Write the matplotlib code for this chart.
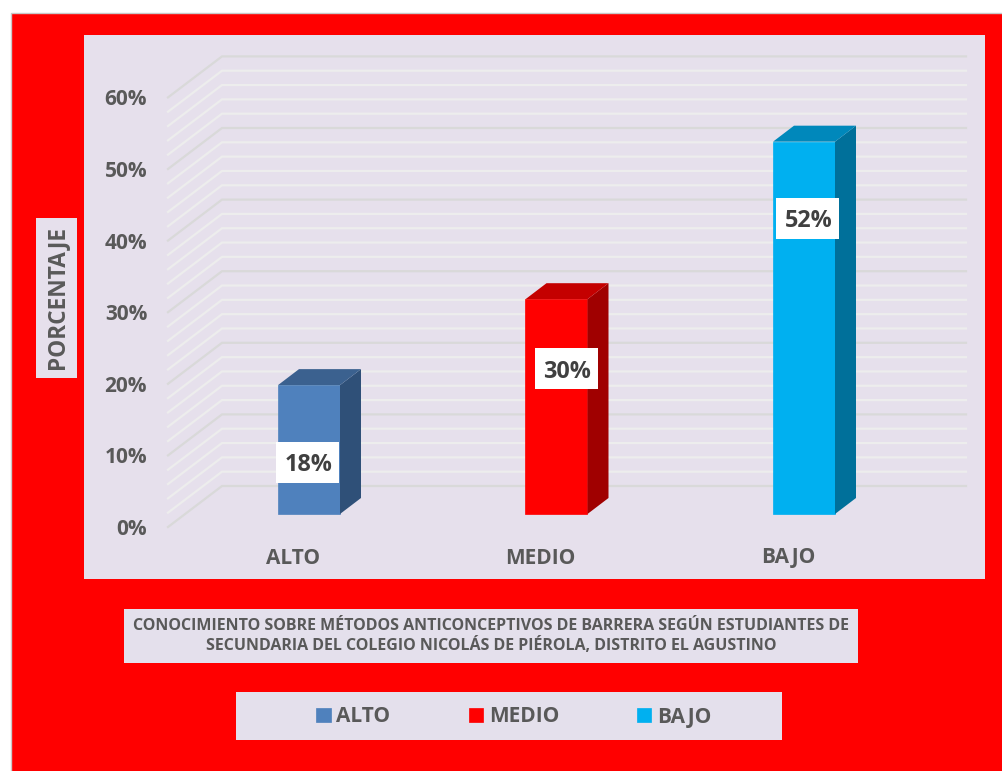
"""Barras 3D simuladas: conocimiento sobre metodos anticonceptivos de barrera."""
import matplotlib
matplotlib.use("Agg")
import matplotlib.pyplot as plt
import numpy as np
from matplotlib.patches import Rectangle

plt.rcParams["font.family"] = ["Open Sans", "DejaVu Sans"]
plt.rcParams["font.weight"] = "bold"

W, H = 1003, 771
TXT = "#595959"
PANEL = "#e6e0ec"

# ---- data -------------------------------------------------------------------
categorias = ["ALTO", "MEDIO", "BAJO"]
porcentajes = [18, 30, 52]
etiquetas = ["18%", "30%", "52%"]
y_ticks = [0, 10, 20, 30, 40, 50, 60]
rejilla = list(range(0, 62, 2))
titulo = ("CONOCIMIENTO SOBRE MÉTODOS ANTICONCEPTIVOS DE BARRERA SEGÚN ESTUDIANTES DE\n"
          "SECUNDARIA DEL COLEGIO NICOLÁS DE PIÉROLA, DISTRITO EL AGUSTINO")

# front, side, top
colores = [("#4f81bd", "#2f5078", "#3b618f"),
           ("#ff0000", "#a00000", "#c40000"),
           ("#00b0f0", "#00709a", "#0088bb")]

# ---- px geometry ------------------------------------------------------------
PX_X = 247.5          # px per category
PX_Y = 7.16           # px per percent
X0, Y0 = 309, 514     # px of first bar centre / baseline
DX, DY = 21 / PX_X, 16 / PX_Y     # bar depth
BW = 62 / PX_X
GRID_FRONT = -13 / PX_Y           # the floor sits a bit below the bar baseline
GRID_DX = 54 / PX_X


def box(x0, y0, x1, y1, fc, **kw):
    # rectangle given in image pixels (y from the top)
    r = Rectangle((x0 / W, 1 - y1 / H), (x1 - x0) / W, (y1 - y0) / H, facecolor=fc,
                  edgecolor=kw.pop("ec", "none"), transform=fig.transFigure, zorder=-1, **kw)
    fig.add_artist(r)


fig = plt.figure(figsize=(W / 100, H / 100), dpi=100, facecolor="white")
box(11, 13, 1004, 772, "#ff0000", ec="#c8c8c8", linewidth=1)
box(84, 35, 985, 579, PANEL)
box(36, 218, 77, 378, PANEL)
box(124, 609, 858, 663, "#e4e0ec")
box(236, 692, 782, 740, "#e4e0ec")

ax_l, ax_r, ax_t, ax_b = 168, 966, 50, 535
ax = fig.add_axes([ax_l / W, 1 - ax_b / H, (ax_r - ax_l) / W, (ax_b - ax_t) / H])
ax.patch.set_alpha(0)
ax.set_xlim((ax_l - X0) / PX_X, (ax_r - X0) / PX_X)
ax.set_ylim((Y0 - ax_b) / PX_Y, (Y0 - ax_t) / PX_Y)
for s in ax.spines.values():
    s.set_visible(False)

# ---- gridlines on wall and side ---------------------------------------------
xl = ax.get_xlim()
for v in rejilla:
    major = v % 10 == 0
    ax.plot([xl[0], xl[0] + GRID_DX, xl[1]],
            [v + GRID_FRONT, v + GRID_FRONT + 41 / PX_Y, v + GRID_FRONT + 41 / PX_Y],
            color="#d9d9d9" if major else "#ededed", lw=1.6, zorder=1,
            solid_joinstyle="miter", clip_on=False)

# ---- bars -------------------------------------------------------------------
xs = np.arange(len(categorias))
barras = ax.bar(xs, porcentajes, width=BW, color=[c[0] for c in colores], zorder=3,
                edgecolor=[c[0] for c in colores], linewidth=0.5)
for x, v, c in zip(xs, porcentajes, colores):
    r = x + BW / 2
    ax.fill([r, r + DX, r + DX, r], [0, DY, v + DY, v], color=c[1], lw=0, zorder=3)
    ax.fill([r - BW, r, r + DX, r - BW + DX], [v, v, v + DY, v + DY], color=c[2], lw=0, zorder=3)

# data labels sit on white boxes
lab_dx = [-1 / PX_X, 10 / PX_X, 4 / PX_X]
lab_y = [7.2, 20.3, 41.3]
for x, ly, dx, t in zip(xs, lab_y, lab_dx, etiquetas):
    ax.add_patch(Rectangle((x + dx - 31.5 / PX_X, ly - 20.5 / PX_Y), 63 / PX_X, 41 / PX_Y,
                           facecolor="white", edgecolor="none", zorder=4))
    ax.text(x + dx + 1 / PX_X, ly, t, ha="center", va="center_baseline", fontsize=16.8,
            color="#404040", zorder=5)

# ---- axes -------------------------------------------------------------------
ax.set_xticks(xs - 16 / PX_X, categorias)
ax.set_yticks([v + GRID_FRONT for v in y_ticks], [f"{v}%" for v in y_ticks])
ax.tick_params(axis="both", length=0, labelsize=15, labelcolor=TXT)
ax.tick_params(axis="x", pad=9)
ax.tick_params(axis="y", pad=15)

fig.text(57 / W, 1 - 298 / H, "PORCENTAJE", rotation=90, ha="center", va="center",
         fontsize=16.3, color=TXT)
fig.text(491 / W, 1 - 636 / H, titulo, ha="center", va="center", fontsize=11.5,
         color=TXT, linespacing=1.28)

leg = fig.legend(barras, categorias, loc="center", bbox_to_anchor=(514 / W, 1 - 717 / H),
                 ncol=3, frameon=False, fontsize=15, labelcolor=TXT, handlelength=0.68,
                 handleheight=0.68, handletextpad=0.28, columnspacing=3.75)

fig.savefig("out.png", dpi=100)
